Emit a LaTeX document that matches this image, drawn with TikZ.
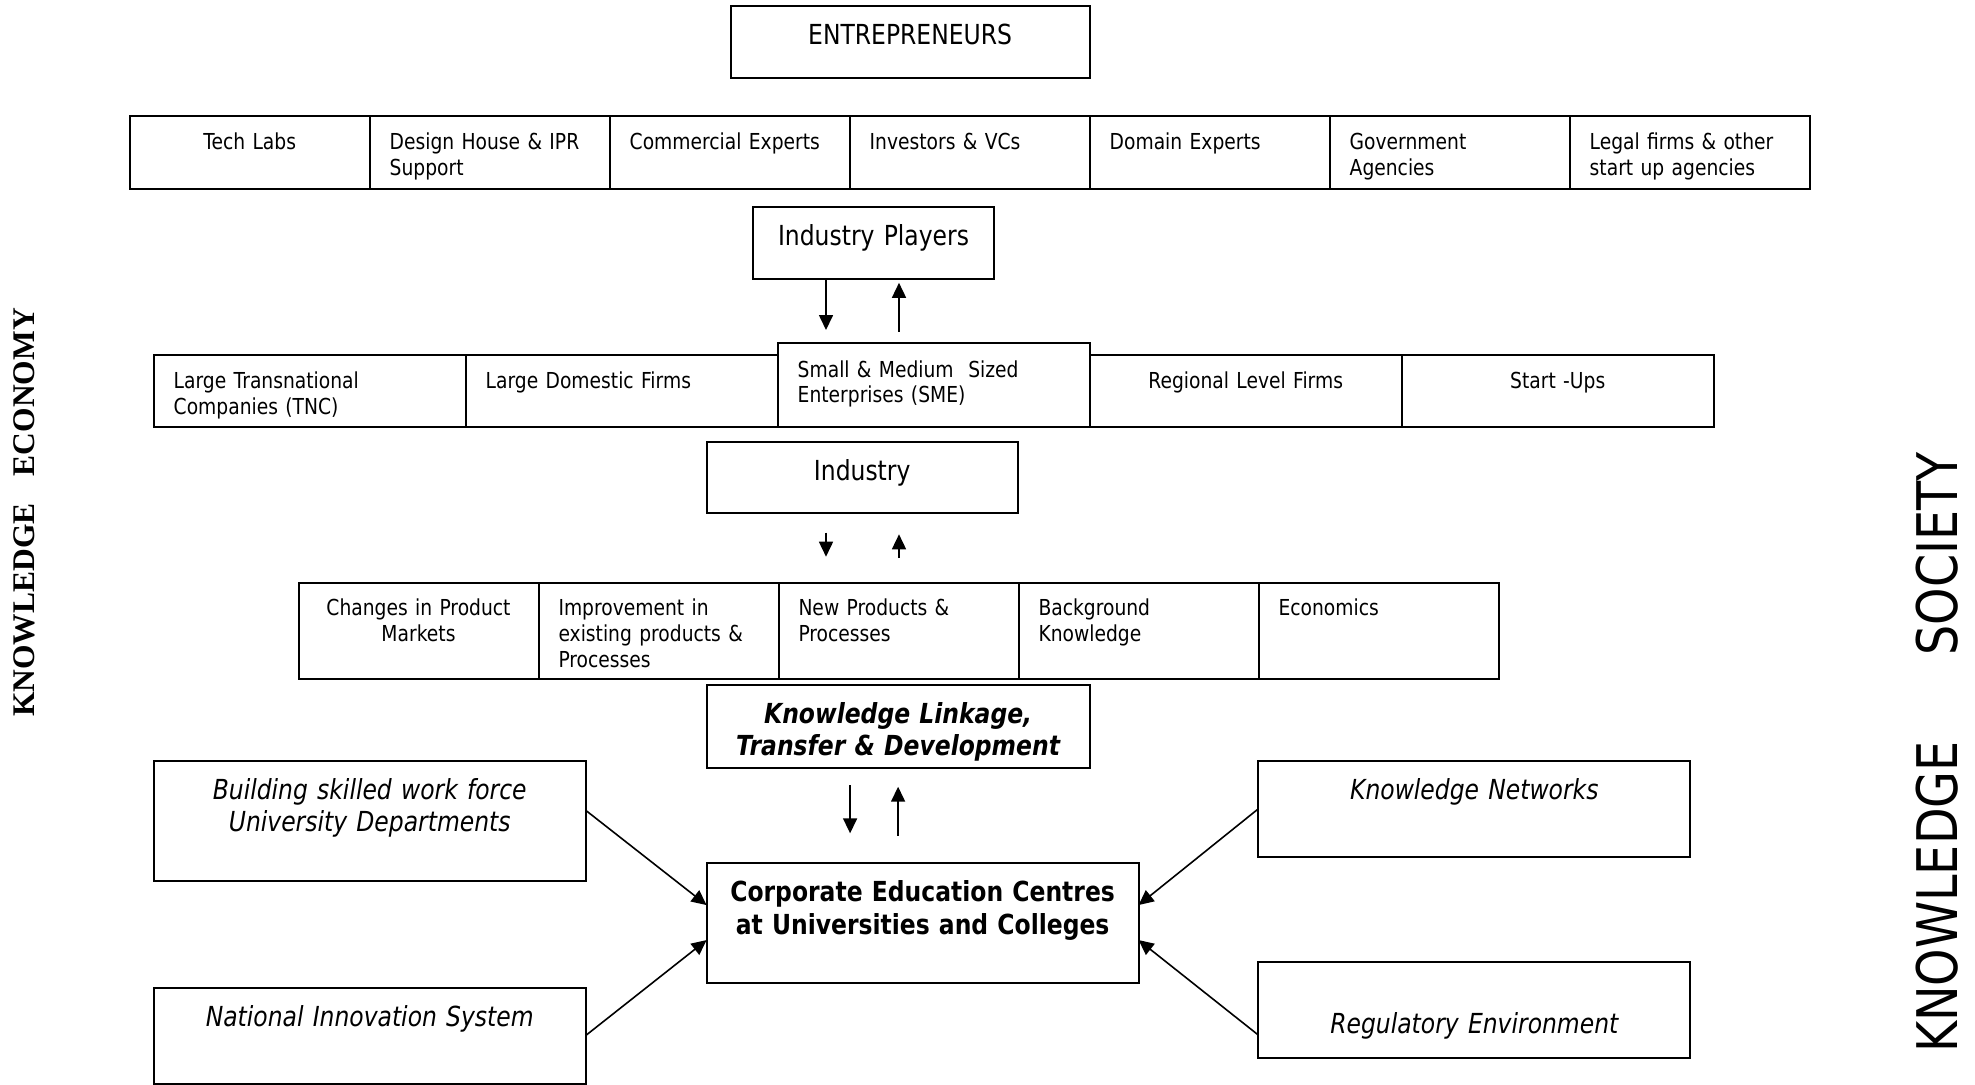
\documentclass[tikz,border=0pt]{standalone}
\usepackage{fontspec}
\setmainfont{DejaVu Sans}[FakeStretch=0.85]
\newfontfamily\serifbold{Liberation Serif}
\usetikzlibrary{positioning,arrows.meta}
\newcommand\cellfont{\fontsize{11}{12.9}\selectfont}
\newcommand\boxfont{\fontsize{13.8}{15.7}\selectfont}

\begin{document}
\begin{tikzpicture}[x=0.5pt,y=-0.5pt,
  box/.style={draw,line width=1pt,outer sep=0pt,inner sep=0pt,anchor=north west},
  cell/.style={box,inner xsep=10pt,text width=100pt,align=left,font=\cellfont,text height=16.8pt,text depth=19.7pt},
  firm/.style={cell,text width=136pt,text depth=19.2pt},
  topic/.style={cell,text height=16.3pt,text depth=31.55pt},
  hub/.style={box,align=center,font=\boxfont},
  side/.style={box,align=center,font=\boxfont\itshape,text width=216pt,text height=19.3pt,text depth=28.7pt},
  arr/.style={line width=0.8pt,-{Triangle[length=7.5pt,width=7pt]}}]
\path[use as bounding box] (0,0) rectangle (1975,1084);

\node[hub,text width=179.5pt,text height=19.3pt,text depth=16.7pt] (entre) at (730.6,6.3) {ENTREPRENEURS};

% support around the entrepreneurs
\node[cell,align=center] (tech) at (129.7,115.9) {Tech Labs};
\node[cell,right=0pt of tech] (design) {Design House \& IPR\\Support};
\node[cell,right=0pt of design] (comm) {Commercial Experts};
\node[cell,right=0pt of comm] (invest) {Investors \& VCs};
\node[cell,right=0pt of invest] (domain) {Domain Experts};
\node[cell,right=0pt of domain] (gov) {Government\\Agencies};
\node[cell,right=0pt of gov] (legal) {Legal firms \& other\\start up agencies};

\node[hub,text width=120.3pt,text height=19.6pt,text depth=16.4pt] (ip) at (753.2,206.6) {Industry Players};

% kinds of firms
\node[firm] (tnc) at (153.7,355.2) {Large Transnational\\Companies (TNC)};
\node[firm,right=0pt of tnc] (ldf) {Large Domestic Firms};
\node[firm,text height=17.2pt,text depth=24.8pt] (sme) at (777.7,342.6) {Small \& Medium\ \ Sized\\Enterprises (SME)};
\node[firm,align=center] (regional) at (1089.7,355.2) {Regional Level Firms};
\node[firm,align=center,right=0pt of regional] (startup) {Start -Ups};

\node[hub,text width=155.6pt,text height=19.4pt,text depth=15.9pt] (ind) at (706.6,442.1) {Industry};

% what industry brings
\node[topic,align=center] (chg) at (298.5,583.2) {Changes in Product\\Markets};
\node[topic,right=0pt of chg] (impr) {Improvement in\\existing products \&\\Processes};
\node[topic,right=0pt of impr] (newp) {New Products \&\\Processes};
\node[topic,right=0pt of newp] (bgk) {Background\\Knowledge};
\node[topic,right=0pt of bgk] (econ) {Economics};

\node[hub,font=\boxfont\bfseries\itshape,text width=191.5pt,text height=19pt,text depth=22.6pt] (kl) at (706.6,685.2) {Knowledge Linkage,\\[0.4pt]Transfer \& Development};
\node[hub,font=\boxfont\bfseries,text width=216pt,text height=19.4pt,text depth=40.45pt] (corp) at (706.6,862.8) {Corporate Education Centres\\[0.5pt]at Universities and Colleges};

\node[side,text depth=41pt] (build) at (153.7,760.8) {Building skilled work force\\[0.4pt]University Departments};
\node[side,text height=19.5pt,text depth=28.5pt] (nis) at (153.7,987.5) {National Innovation System};
\node[side] (kn) at (1258.3,760.8) {Knowledge Networks};
\node[side,text height=36pt,text depth=12pt] (regenv) at (1258.3,961.7) {Regulatory Environment};

% two way links
\coordinate (ipd) at ([xshift=-23.75pt]ip.south);
\coordinate (ipu) at ([xshift=12.75pt]ip.south);
\draw[arr,shorten >=6.3pt] (ipd) -- (ipd |- sme.north);
\draw[arr,shorten <=5.4pt,shorten >=2.1pt] (ipu |- sme.north) -- (ipu);
\coordinate (indd) at ([xshift=-18.1pt]ind.south);
\coordinate (indu) at ([xshift=18.4pt]ind.south);
\draw[arr,shorten <=10pt,shorten >=13.25pt] (indd) -- (indd |- newp.north);
\draw[arr,shorten <=12.6pt,shorten >=10.8pt] (indu |- newp.north) -- (indu);
\coordinate (kld) at ([xshift=-24pt]kl.south);
\draw[arr,shorten <=8.3pt,shorten >=14.75pt] (kld) -- (kld |- corp.north);
\draw[arr,shorten <=13.5pt,shorten >=9.15pt] (corp.north -| kl.south) -- (kl.south);

\draw[arr] ([yshift=5.4pt]build.east) -- ([yshift=8.8pt]corp.west);
\draw[arr] (nis.east) -- ([yshift=-8.7pt]corp.west);
\draw[arr] (kn.west) -- ([yshift=8.8pt]corp.east);
\draw[arr] ([yshift=-12.65pt]regenv.west) -- ([yshift=-8.7pt]corp.east);

\node[rotate=90,font=\serifbold\bfseries\fontsize{15.75}{18}\selectfont] (keco) at (24.7,512.5) {KNOWLEDGE\hspace{13.5pt}ECONOMY};
\node[rotate=90,font=\fontsize{28}{32}\selectfont] (ksoc) at (1937,752.5) {KNOWLEDGE\hspace{43pt}SOCIETY};
\end{tikzpicture}
\end{document}
